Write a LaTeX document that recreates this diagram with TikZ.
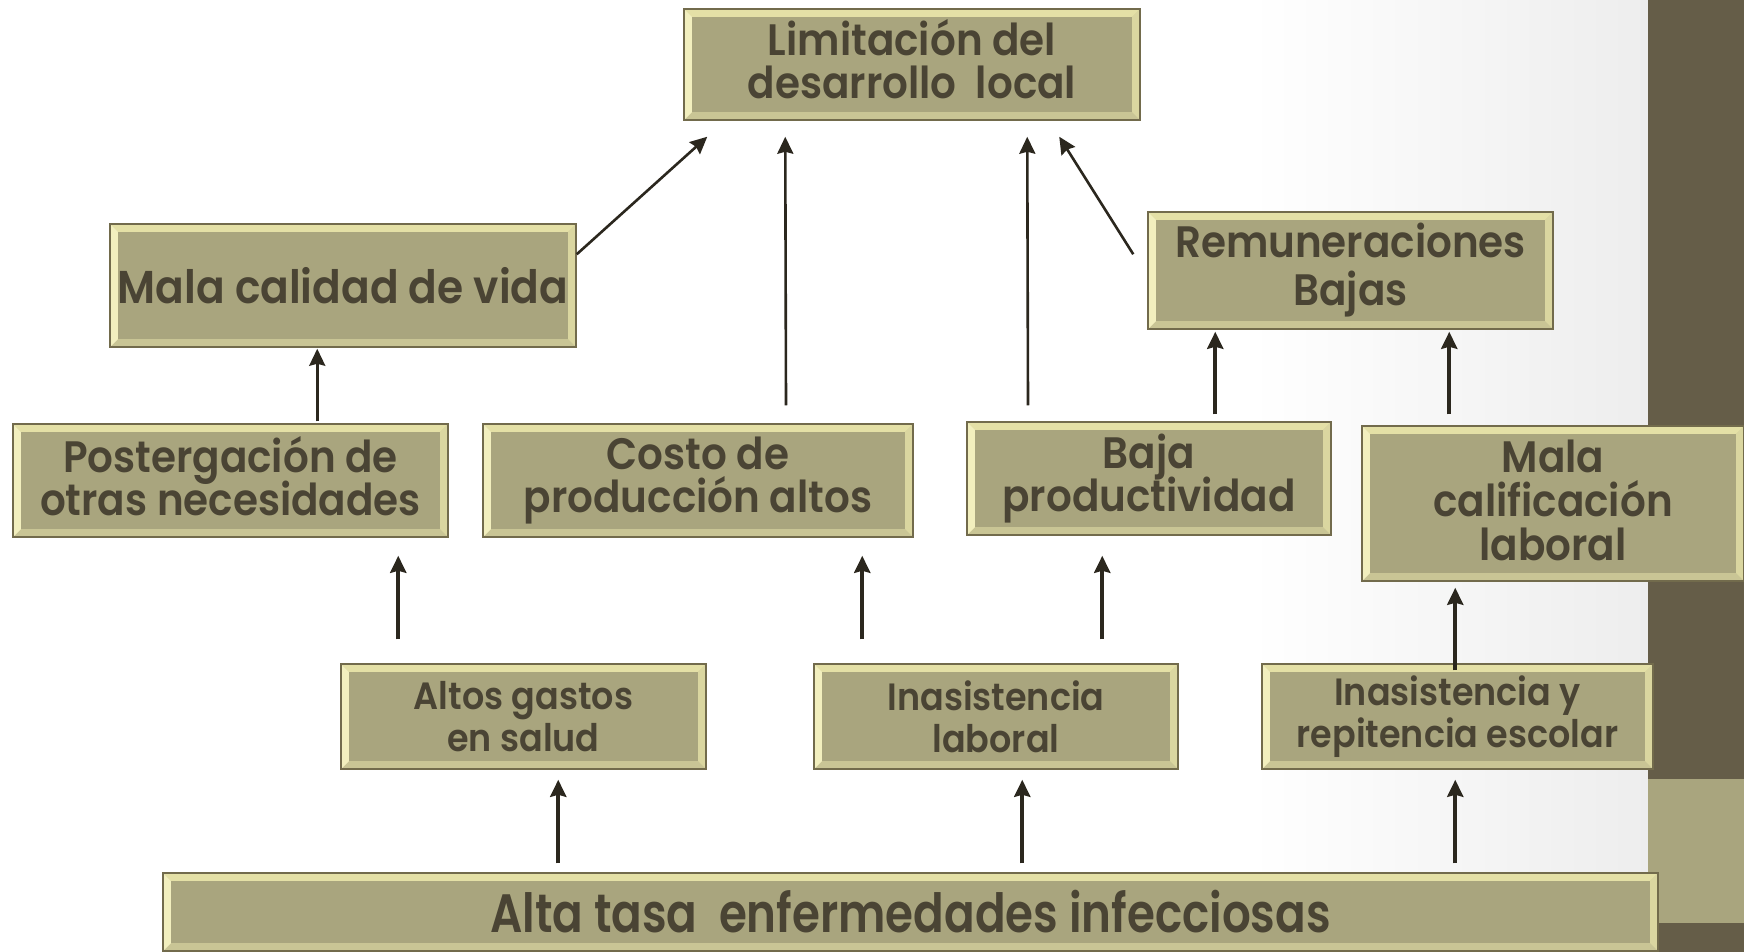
\documentclass[tikz,border=0pt]{standalone}
\usepackage{fontspec}
\setmainfont{Poppins}[FakeStretch=0.92, BoldFont={* SemiBold}]
\usetikzlibrary{calc,arrows.meta}
\definecolor{boxfill}{HTML}{A9A57E}
\definecolor{bevT}{HTML}{E4E0A6}
\definecolor{bevL}{HTML}{F2EFBE}
\definecolor{bevR}{HTML}{DAD6A0}
\definecolor{bevB}{HTML}{C9C595}
\definecolor{boxline}{HTML}{726B4C}
\definecolor{txt}{HTML}{4A4434}
\definecolor{barc}{HTML}{655D48}
\definecolor{arrowc}{HTML}{2B271E}
\newcommand{\fsz}[2]{\bfseries\fontsize{#1}{#2}\selectfont\lineskiplimit=-100pt\lineskip=0pt}
\newcommand{\lowdepth}[1]{\rule[-#1]{0pt}{0pt}}
\tikzset{
  bev/.style={rectangle, draw=boxline, line width=1.5pt, fill=bevB, text=txt,
    align=center, inner sep=0pt,
    path picture={
      \path (path picture bounding box.north west) coordinate (pnw)
            (path picture bounding box.north east) coordinate (pne)
            (path picture bounding box.south east) coordinate (pse)
            (path picture bounding box.south west) coordinate (psw);
      \fill[bevT] (pnw) -- (pne) -- ([xshift=-8pt,yshift=-8pt]pne) -- ([xshift=8pt,yshift=-8pt]pnw) -- cycle;
      \fill[bevL] (pnw) -- (psw) -- ([xshift=8pt,yshift=8pt]psw) -- ([xshift=8pt,yshift=-8pt]pnw) -- cycle;
      \fill[bevR] (pne) -- (pse) -- ([xshift=-8pt,yshift=8pt]pse) -- ([xshift=-8pt,yshift=-8pt]pne) -- cycle;
      \fill[boxfill] ([xshift=8pt,yshift=-8pt]pnw) rectangle ([xshift=-8pt,yshift=8pt]pse);
    }},
  fbig/.style={font=\fsz{44}{43.5}},
  fsmall/.style={font=\fsz{38}{42}},
  arr/.style={draw=arrowc, line width=2.6pt, -{Stealth[length=17pt,width=16pt,inset=2pt]}},
  arrt/.style={draw=arrowc, line width=4pt, -{Stealth[length=17pt,width=16pt,inset=2pt]}},
}
\begin{document}
\begin{tikzpicture}[x=1pt,y=-1pt]
\useasboundingbox (0,0) rectangle (1744,952);
\fill[white] (0,0) rectangle (1744,952);
\shade[left color=white, right color=black!7] (1250,0) rectangle (1648,952);
\fill[barc] (1648,0) rectangle (1744,952);
\fill[boxfill] (1648,779) rectangle (1744,923);

\node[bev, fbig, minimum width=456pt, minimum height=111pt] (top) at (912,64.5) {Limitaci\smash{ó}n del\\desarrollo\ \ local\lowdepth{9pt}};
\node[bev, font=\fsz{46}{48}, minimum width=466pt, minimum height=123pt] (vida) at (343,285.5) {Mala calidad de vida};
\node[bev, font=\fsz{44}{48}, minimum width=405pt, minimum height=117pt] (remun) at (1350.5,270.5) {Remuneraciones\\Bajas};
\node[bev, fbig, minimum width=435pt, minimum height=113pt] (poster) at (230.5,480.5) {Postergaci\smash{ó}n de\\otras necesidades\lowdepth{8pt}};
\node[bev, fbig, minimum width=430pt, minimum height=113pt] (costo) at (698,480.5) {Costo de\\producción altos};
\node[bev, fbig, minimum width=364pt, minimum height=113pt] (baja) at (1149,478.5) {Baja\\productividad};
\node[bev, font=\fsz{44}{44}, minimum width=382pt, minimum height=155pt] (calif) at (1553,503.5) {Mala\\calificación\\laboral\lowdepth{6pt}};
\node[bev, fsmall, minimum width=365pt, minimum height=105pt] (gastos) at (523.5,716.5) {Altos gastos\\en salud};
\node[bev, fsmall, minimum width=364pt, minimum height=105pt] (inasis) at (996,716.5) {Inasistencia\\laboral};
\node[bev, fsmall, minimum width=391pt, minimum height=105pt] (repit) at (1457.5,716.5) {Inasistencia y\\repitencia escolar};
\node[bev, font=\fsz{54}{56}, minimum width=1495pt, minimum height=78pt] (alta) at (910.5,912) {\scalebox{0.91}[1]{Alta tasa\ \ enfermedades infecciosas}};

\draw[arr] ($(vida.north east)+(0,31)$) -- ($(top.south west)+(24,16)$);
\draw[arr] ($(costo.north)+(88,-18)$) -- ($(top.south west)+(102,16)$);
\draw[arr] ($(baja.north)+(-121,-16)$) -- ($(top.south west)+(344,16)$);
\draw[arr] ($(remun.north west)+(-14,43)$) -- ($(top.south west)+(376,16)$);
\draw[arr] ($(poster.north west)+(305,-2)$) -- ($(vida.south west)+(208,1)$);
\draw[arrt] ($(baja.north west)+(249,-7)$) -- ($(remun.south west)+(68,2)$);
\draw[arrt] ($(calif.north west)+(88,-11)$) -- ($(remun.south west)+(302,2)$);
\draw[arrt] ($(gastos.north west)+(58,-24)$) -- ($(poster.south west)+(386,18)$);
\draw[arrt] ($(inasis.north west)+(49,-24)$) -- ($(costo.south west)+(380,18)$);
\draw[arrt] ($(inasis.north west)+(289,-24)$) -- ($(baja.south west)+(136,20)$);
\draw[arrt] ($(repit.north west)+(194,7)$) -- ($(calif.south west)+(94,6)$);
\draw[arrt] ($(alta.north west)+(396,-9)$) -- ($(gastos.south west)+(218,10)$);
\draw[arrt] ($(alta.north west)+(860,-9)$) -- ($(inasis.south west)+(209,10)$);
\draw[arrt] ($(alta.north west)+(1293,-9)$) -- ($(repit.south west)+(194,10)$);
\end{tikzpicture}
\end{document}
